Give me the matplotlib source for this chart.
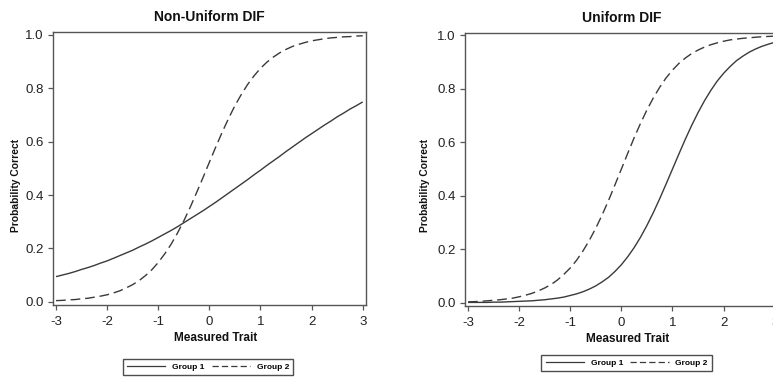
#!/usr/bin/env python3
import matplotlib
matplotlib.use('Agg')
import matplotlib.pyplot as plt
from matplotlib.lines import Line2D

plt.rcParams['font.family'] = ['Liberation Sans', 'DejaVu Sans']
plt.rcParams['axes.unicode_minus'] = False

# trait grid (every 0.125)
trait = [-3, -2.875, -2.75, -2.625, -2.5, -2.375, -2.25, -2.125, -2, -1.875, -1.75, -1.625,
         -1.5, -1.375, -1.25, -1.125, -1, -0.875, -0.75, -0.625, -0.5, -0.375, -0.25, -0.125,
         0, 0.125, 0.25, 0.375, 0.5, 0.625, 0.75, 0.875, 1, 1.125, 1.25, 1.375,
         1.5, 1.625, 1.75, 1.875, 2, 2.125, 2.25, 2.375, 2.5, 2.625, 2.75, 2.875, 3]

# Non-uniform DIF panel
nonuni_g1 = [0.094, 0.100, 0.106, 0.113, 0.121, 0.128, 0.136, 0.145, 0.153, 0.163, 0.173, 0.183,
             0.193, 0.205, 0.216, 0.228, 0.241, 0.254, 0.267, 0.281, 0.296, 0.311, 0.326, 0.341,
             0.357, 0.373, 0.390, 0.407, 0.424, 0.441, 0.458, 0.476, 0.493, 0.511, 0.528, 0.545,
             0.563, 0.580, 0.597, 0.614, 0.630, 0.646, 0.662, 0.677, 0.693, 0.707, 0.722, 0.735, 0.749]
nonuni_g2 = [0.004, 0.005, 0.007, 0.008, 0.011, 0.013, 0.017, 0.021, 0.026, 0.033, 0.041, 0.052,
             0.064, 0.079, 0.098, 0.120, 0.147, 0.179, 0.215, 0.257, 0.303, 0.354, 0.409, 0.465,
             0.523, 0.580, 0.635, 0.687, 0.735, 0.777, 0.815, 0.847, 0.875, 0.898, 0.917, 0.933,
             0.946, 0.957, 0.965, 0.972, 0.978, 0.982, 0.986, 0.989, 0.991, 0.993, 0.994, 0.996, 0.997]

# Uniform DIF panel
uni_g1 = [0.001, 0.001, 0.001, 0.001, 0.002, 0.002, 0.003, 0.004, 0.005, 0.006, 0.007, 0.009,
          0.011, 0.014, 0.017, 0.021, 0.027, 0.033, 0.041, 0.051, 0.063, 0.078, 0.095, 0.117,
          0.142, 0.172, 0.206, 0.245, 0.289, 0.337, 0.389, 0.444, 0.500, 0.556, 0.611, 0.663,
          0.711, 0.755, 0.794, 0.829, 0.858, 0.883, 0.905, 0.922, 0.937, 0.949, 0.959, 0.967, 0.974]
uni_g2 = [0.003, 0.004, 0.005, 0.007, 0.009, 0.011, 0.014, 0.017, 0.022, 0.028, 0.035, 0.044,
          0.055, 0.068, 0.085, 0.106, 0.130, 0.159, 0.194, 0.234, 0.279, 0.329, 0.383, 0.441,
          0.500, 0.559, 0.617, 0.671, 0.721, 0.766, 0.806, 0.841, 0.870, 0.895, 0.915, 0.932,
          0.945, 0.956, 0.965, 0.972, 0.978, 0.983, 0.986, 0.989, 0.991, 0.993, 0.995, 0.996, 0.997]

titles = ['Non-Uniform DIF', 'Uniform DIF']
groups = ['Group 1', 'Group 2']
xticks = [-3, -2, -1, 0, 1, 2, 3]
yticks = [0.0, 0.2, 0.4, 0.6, 0.8, 1.0]

line_col = '#3a3a3a'
spine_col = '#555555'
dash = (0, (7, 3.5))

fig = plt.figure(figsize=(7.73, 3.78), dpi=100)
ax1 = fig.add_axes([0.0686, 0.1931, 0.4049, 0.7214])
ax2 = fig.add_axes([0.6016, 0.1905, 0.4049, 0.7230])

panels = [(ax1, nonuni_g1, nonuni_g2, 0.269, 0.029, 3.5), (ax2, uni_g1, uni_g2, 0.8107, 0.039, 5)]
for (ax, g1, g2, lx, ly, ylpad), title in zip(panels, titles):
    ax.plot(trait, g1, color=line_col, lw=1.0, solid_capstyle='butt')
    ax.plot(trait, g2, color=line_col, lw=1.0, linestyle=dash)
    ax.set_xlim(-3.059, 3.065)
    ax.set_ylim(-0.0124, 1.010)
    ax.set_xticks(xticks)
    ax.set_xticklabels([str(t) for t in xticks])
    ax.set_yticks(yticks)
    ax.set_yticklabels([f'{t:.1f}' for t in yticks])
    ax.tick_params(direction='out', length=3.6, width=0.9, color=spine_col,
                   labelsize=9.5, labelcolor='#222222', pad=3)
    ax.tick_params(axis='x', pad=4.5)
    for s in ax.spines.values():
        s.set_color(spine_col)
        s.set_linewidth(1.0)
    ax.set_title(title, fontsize=10, fontweight='bold', color='#111111', pad=8)
    ax.set_xlabel('Measured Trait', fontsize=8.5, fontweight='bold', color='#111111', x=0.521, labelpad=3)
    ax.set_ylabel('Probability Correct', fontsize=7.4, fontweight='bold', color='#111111', y=0.44, labelpad=ylpad)
    handles = [Line2D([], [], color=line_col, lw=0.9),
               Line2D([], [], color=line_col, lw=0.9, linestyle=(0, (5, 2.5)))]
    leg = fig.legend(handles, groups, loc='center', bbox_to_anchor=(lx, ly), ncol=2,
                     prop={'size': 6, 'weight': 'bold'}, frameon=True, fancybox=False,
                     handlelength=4.6, handletextpad=0.8, columnspacing=0.9,
                     borderpad=0.5, borderaxespad=0)
    leg.get_frame().set_edgecolor('#222222')
    leg.get_frame().set_linewidth(1.0)

fig.savefig('out.png', dpi=100)
